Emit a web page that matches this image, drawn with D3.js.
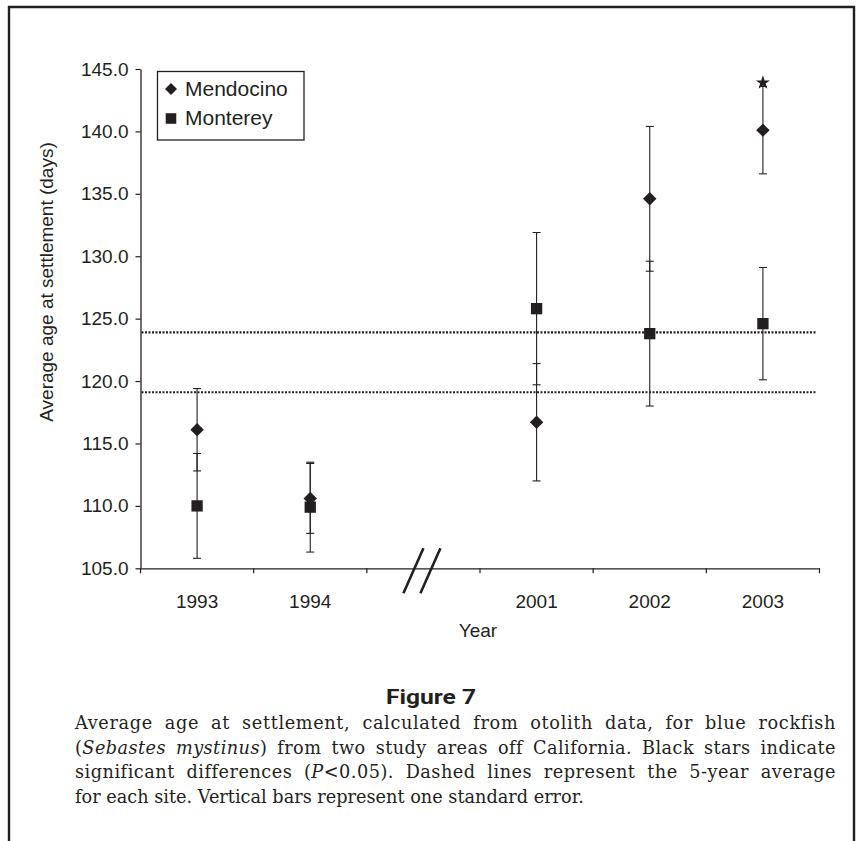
<!DOCTYPE html>
<html>
<head>
<meta charset="utf-8">
<script src="https://cdn.jsdelivr.net/npm/d3@7"></script>
<style>
  html, body { margin: 0; padding: 0; background: #fff; }
  svg { display: block; }
</style>
</head>
<body>
<script>
// ---------------- data ----------------
const xCategories = ["1993", "1994", "break", "2001", "2002", "2003"];
const years = ["1993", "1994", "2001", "2002", "2003"];
const mendocinoMean = [116.1, 110.6, 116.7, 134.6, 140.1];
const mendocinoSE   = [3.3, 2.8, 4.7, 5.8, 3.5];
const montereyMean  = [110.0, 109.9, 125.8, 123.8, 124.6];
const montereySE    = [4.2, 3.6, 6.1, 5.8, 4.5];
const fiveYearAverages = [123.9, 119.1];   // Mendocino, Monterey
const significantStars = [{ year: "2003", value: 143.9 }];
const yTicks = [105, 110, 115, 120, 125, 130, 135, 140, 145];
const seriesNames = ["Mendocino", "Monterey"];

const W = 856, H = 841;
const ink = "#231f20";

const svg = d3.select("body").append("svg")
  .attr("width", W).attr("height", H)
  .attr("viewBox", `0 0 ${W} ${H}`);

// frame
svg.append("path")
  .attr("d", `M9,${H} V7 H854 V${H}`)
  .attr("fill", "none").attr("stroke", ink).attr("stroke-width", 2.4);

// scales
const x = d3.scaleBand().domain(xCategories).range([140.5, 819.5]).padding(0);
const y = d3.scaleLinear().domain([105, 145]).range([568.3, 69]);
const cx = d => x(d) + x.bandwidth() / 2;

const axisFont = "Liberation Sans, Arial, sans-serif";

// Y axis
const yAxis = svg.append("g")
  .attr("transform", `translate(${x.range()[0]},0)`)
  .call(d3.axisLeft(y).tickValues(yTicks).tickFormat(d3.format(".1f"))
        .tickSize(5).tickPadding(7).tickSizeOuter(0));
yAxis.select(".domain").attr("stroke", ink).attr("stroke-width", 1.3);
yAxis.selectAll(".tick line").attr("stroke", ink).attr("stroke-width", 1.2);
yAxis.selectAll(".tick text").attr("fill", ink)
  .style("font-family", axisFont).style("font-size", "19px");

// X axis (labels at band centres, ticks at band edges)
const xAxis = svg.append("g")
  .attr("transform", `translate(0,${y(105)})`)
  .call(d3.axisBottom(x).tickSize(0).tickPadding(26).tickSizeOuter(0)
        .tickFormat(d => d === "break" ? "" : d));
xAxis.select(".domain").attr("stroke", ink).attr("stroke-width", 1.3);
xAxis.selectAll(".tick text").attr("fill", ink)
  .style("font-family", axisFont).style("font-size", "19px");
const edges = xCategories.map(d => x(d)).concat([x.range()[1]]);
xAxis.selectAll(".edge").data(edges).join("line")
  .attr("class", "edge")
  .attr("x1", d => d).attr("x2", d => d)
  .attr("y1", 0).attr("y2", 5)
  .attr("stroke", ink).attr("stroke-width", 1.2);

// axis break marks
const bc = cx("break");
const by = y(105) + 2.5;
[-10, 7].forEach(off => {
  svg.append("line")
    .attr("x1", bc + off - 10).attr("y1", by + 22.5)
    .attr("x2", bc + off + 10).attr("y2", by - 22.5)
    .attr("stroke", ink).attr("stroke-width", 2.6);
});

// axis titles
svg.append("text")
  .attr("transform", `translate(46,282) rotate(-90)`)
  .attr("text-anchor", "middle").attr("dy", "0.35em")
  .attr("fill", ink)
  .style("font-family", axisFont).style("font-size", "19px")
  .text("Average age at settlement (days)");
svg.append("text")
  .attr("x", 478).attr("y", 637)
  .attr("text-anchor", "middle").attr("fill", ink)
  .style("font-family", axisFont).style("font-size", "19px")
  .text("Year");

// dotted 5-year averages
svg.selectAll(".avg").data(fiveYearAverages).join("line")
  .attr("class", "avg")
  .attr("x1", x.range()[0] + 1).attr("x2", 817)
  .attr("y1", d => y(d)).attr("y2", d => y(d))
  .attr("stroke", ink).attr("stroke-width", 2.1)
  .attr("stroke-dasharray", "2,1.5");

// error bars
function errorBars(means, ses, cls) {
  const data = years.map((yr, i) => ({ yr, m: means[i], se: ses[i] }));
  const g = svg.append("g").attr("class", cls);
  g.selectAll(".v").data(data).join("line")
    .attr("x1", d => cx(d.yr)).attr("x2", d => cx(d.yr))
    .attr("y1", d => y(d.m - d.se)).attr("y2", d => y(d.m + d.se))
    .attr("stroke", ink).attr("stroke-width", 1.1);
  ["lo", "hi"].forEach(k => {
    g.selectAll(".c" + k).data(data).join("line")
      .attr("x1", d => cx(d.yr) - 4).attr("x2", d => cx(d.yr) + 4)
      .attr("y1", d => y(k === "lo" ? d.m - d.se : d.m + d.se))
      .attr("y2", d => y(k === "lo" ? d.m - d.se : d.m + d.se))
      .attr("stroke", ink).attr("stroke-width", 1.1);
  });
}
errorBars(mendocinoMean, mendocinoSE, "eb-mendo");
errorBars(montereyMean, montereySE, "eb-monte");

const diamond = d3.symbol().type(d3.symbolSquare).size(90);
const square = d3.symbol().type(d3.symbolSquare).size(128);

// Monterey squares
svg.selectAll(".sq").data(years.map((yr, i) => ({ yr, v: montereyMean[i] }))).join("path")
  .attr("class", "sq")
  .attr("d", square)
  .attr("transform", d => `translate(${cx(d.yr)},${y(d.v)})`)
  .attr("fill", ink);

// Mendocino diamonds
svg.selectAll(".dm").data(years.map((yr, i) => ({ yr, v: mendocinoMean[i] }))).join("path")
  .attr("class", "dm")
  .attr("d", diamond)
  .attr("transform", d => `translate(${cx(d.yr)},${y(d.v)}) rotate(45)`)
  .attr("fill", ink);

// significance stars
svg.selectAll(".star").data(significantStars).join("path")
  .attr("class", "star")
  .attr("d", d3.symbol().type(d3.symbolStar).size(62))
  .attr("transform", d => `translate(${cx(d.year)},${y(d.value)})`)
  .attr("fill", ink);

// legend
const lg = svg.append("g");
lg.append("rect")
  .attr("x", 157.5).attr("y", 71.5).attr("width", 146.5).attr("height", 68.5)
  .attr("fill", "#fff").attr("stroke", ink).attr("stroke-width", 1.3);
lg.append("path").attr("d", d3.symbol().type(d3.symbolSquare).size(72))
  .attr("transform", "translate(171,89) rotate(45)").attr("fill", ink);
lg.append("path").attr("d", d3.symbol().type(d3.symbolSquare).size(112))
  .attr("transform", "translate(171,118.5)").attr("fill", ink);
lg.selectAll(".lt").data(seriesNames).join("text")
  .attr("x", 185).attr("y", (d, i) => i === 0 ? 96 : 125)
  .attr("fill", ink)
  .style("font-family", axisFont).style("font-size", "21px")
  .text(d => d);

// figure title and caption
svg.append("text")
  .attr("x", 431).attr("y", 704)
  .attr("text-anchor", "middle").attr("fill", ink)
  .attr("textLength", 90).attr("lengthAdjust", "spacingAndGlyphs")
  .style("font-family", "Roboto, 'Noto Sans', sans-serif")
  .style("font-weight", "bold").style("font-size", "21px")
  .text("Figure 7");

const captionLines = [
  { parts: [["Average age at settlement, calculated from otolith data, for blue rockfish", false]], justify: true },
  { parts: [["(", false], ["Sebastes mystinus", true], [") from two study areas off California. Black stars indicate", false]], justify: true },
  { parts: [["significant differences (", false], ["P", true], ["<0.05). Dashed lines represent the 5-year average", false]], justify: true },
  { parts: [["for each site. Vertical bars represent one standard error.", false]], justify: false }
];
const capLeft = 75, capWidth = 761;
captionLines.forEach((ln, i) => {
  const t = svg.append("text")
    .attr("x", capLeft).attr("y", 729 + i * 24.6)
    .attr("fill", ink)
    .style("font-family", "'DejaVu Serif', serif")
    .style("font-size", "17.7px");
  ln.parts.forEach(p => {
    t.append("tspan").style("font-style", p[1] ? "italic" : "normal").text(p[0]);
  });
  if (ln.justify) {
    const str = ln.parts.map(p => p[0]).join("");
    const natural = t.node().getComputedTextLength();
    const extra = capWidth - natural;
    const spaces = str.split(" ").length - 1;
    const ls = (extra * 0.45) / str.length;
    t.style("letter-spacing", ls + "px");
    const mid = t.node().getComputedTextLength();
    t.style("word-spacing", ((capWidth - mid) / spaces) + "px");
    const after = t.node().getComputedTextLength();
    if (Math.abs(after - capWidth) > 3) {
      t.style("word-spacing", null).style("letter-spacing", null)
        .attr("textLength", capWidth).attr("lengthAdjust", "spacing");
    }
  }
});
</script>
</body>
</html>
